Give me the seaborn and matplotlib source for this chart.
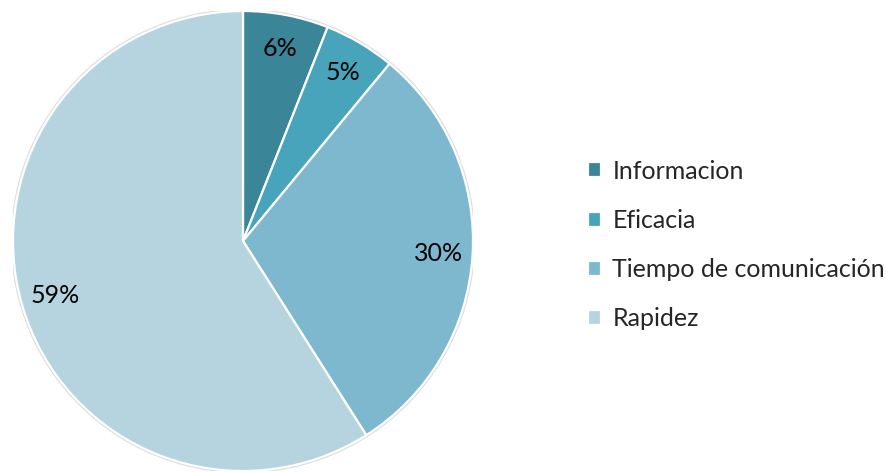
import matplotlib
matplotlib.use("Agg")
import matplotlib.pyplot as plt
import seaborn as sns
from matplotlib.patches import Circle

categories = ["Informacion", "Eficacia", "Tiempo de comunicación", "Rapidez"]
values = [6, 5, 30, 59]
colors = ["#3A8598", "#48A4BB", "#7DB8CE", "#B5D4DF"]

sns.set_theme(style="white")
plt.rcParams["font.family"] = ["Lato", "DejaVu Sans"]

fig = plt.figure(figsize=(8.87, 4.73), dpi=100)
ax = fig.add_axes([13 / 887, 2 / 473, 460 / 887, 460 / 473])

# soft outer rim behind the pie
ax.add_patch(Circle((0, 0), 1.005, facecolor="none", edgecolor="#DCDCDC",
                    linewidth=1.5, zorder=0))

wedges, texts, autotexts = ax.pie(
    values,
    colors=colors,
    startangle=90,
    counterclock=False,
    autopct=lambda p: f"{p:.0f}%",
    pctdistance=0.85,
    wedgeprops=dict(edgecolor="white", linewidth=1.6),
    textprops=dict(fontsize=18, color="black"),
)
ax.set_xlim(-1, 1)
ax.set_ylim(-1, 1)
ax.set_aspect("equal")

fig.legend(
    wedges, categories,
    loc="center left",
    bbox_to_anchor=(565 / 887, 0.482),
    frameon=False,
    fontsize=18,
    handlelength=0.55,
    handleheight=0.55,
    handletextpad=0.45,
    labelspacing=1.05,
)

fig.savefig("out.png", dpi=100)
